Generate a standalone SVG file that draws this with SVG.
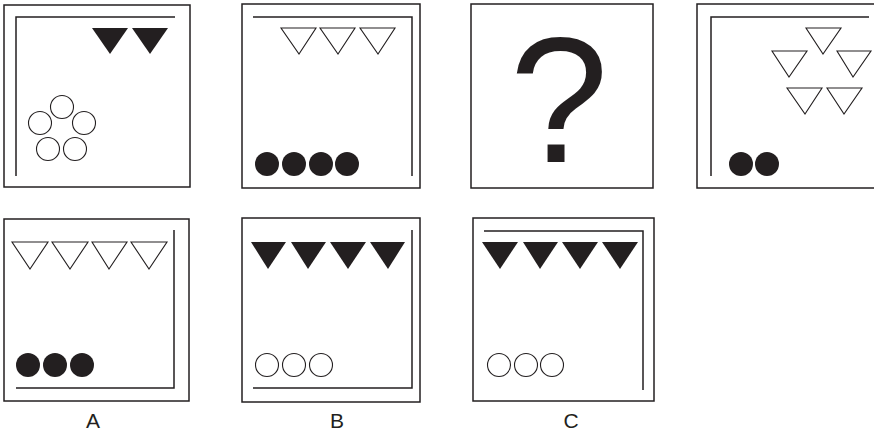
<svg xmlns="http://www.w3.org/2000/svg" width="874" height="435" viewBox="0 0 874 435">
<style>
.frame{fill:none;stroke:#231f20;stroke-width:1.5}
.inner{fill:none;stroke:#231f20;stroke-width:1.5}
.tf{fill:#231f20;stroke:none}
.to{fill:#fff;stroke:#231f20;stroke-width:1.1}
.cf{fill:#231f20;stroke:none}
.co{fill:#fff;stroke:#231f20;stroke-width:1.1}
.lbl{font-family:"Liberation Sans",Arial,sans-serif;font-size:21px;fill:#231f20;text-anchor:middle}
.q{font-family:"Liberation Sans",Arial,sans-serif;font-size:178px;fill:#231f20;text-anchor:middle}
</style>
<rect width="874" height="435" fill="#fff"/>
<g id="p1">
<rect class="frame" x="4" y="5" width="186" height="182"/>
<polyline class="inner" points="175,17 16,17 16,176"/>
<polygon class="tf" points="92,28 128,28 110,54"/>
<polygon class="tf" points="132,28 168,28 150,54"/>
<circle class="co" cx="62" cy="107" r="11.5"/>
<circle class="co" cx="40" cy="123" r="11.5"/>
<circle class="co" cx="84" cy="123" r="11.5"/>
<circle class="co" cx="48" cy="149" r="11.5"/>
<circle class="co" cx="75" cy="149" r="11.5"/>
</g>
<g id="p2">
<rect class="frame" x="242" y="4" width="178" height="184"/>
<polyline class="inner" points="253,17 412,17 412,176"/>
<polygon class="to" points="281,28 316,28 299,54"/>
<polygon class="to" points="320,28 355,28 338,54"/>
<polygon class="to" points="360,28 395,28 378,54"/>
<circle class="cf" cx="267" cy="164" r="12"/>
<circle class="cf" cx="294" cy="164" r="12"/>
<circle class="cf" cx="321" cy="164" r="12"/>
<circle class="cf" cx="347" cy="164" r="12"/>
</g>
<g id="p3">
<rect class="frame" x="471" y="4" width="182" height="184"/>
<text class="q" x="559" y="162">?</text>
</g>
<g id="p4">
<rect class="frame" x="697" y="4" width="190" height="184"/>
<polyline class="inner" points="869,17 711,17 711,176"/>
<polygon class="to" points="806,28 841,28 823,54"/>
<polygon class="to" points="772,51 807,51 789,77"/>
<polygon class="to" points="837,51 871,51 853,77"/>
<polygon class="to" points="787,88 822,88 805,114"/>
<polygon class="to" points="827,88 862,88 844,114"/>
<circle class="cf" cx="741" cy="164" r="12"/>
<circle class="cf" cx="767" cy="164" r="12"/>
</g>
<g id="pA">
<rect class="frame" x="4" y="219" width="185" height="182"/>
<polyline class="inner" points="16,388 174,388 174,230"/>
<polygon class="to" points="12,242 48,242 30,269"/>
<polygon class="to" points="52,242 88,242 70,269"/>
<polygon class="to" points="92,242 127,242 109,269"/>
<polygon class="to" points="131,242 167,242 149,269"/>
<circle class="cf" cx="28" cy="365" r="12"/>
<circle class="cf" cx="55" cy="365" r="12"/>
<circle class="cf" cx="82" cy="365" r="12"/>
<text class="lbl" x="93" y="428">A</text>
</g>
<g id="pB">
<rect class="frame" x="242" y="218" width="178" height="184"/>
<polyline class="inner" points="253,388 412,388 412,230"/>
<polygon class="tf" points="251,242 286,242 268,269"/>
<polygon class="tf" points="291,242 326,242 308,269"/>
<polygon class="tf" points="330,242 366,242 348,269"/>
<polygon class="tf" points="370,242 405,242 388,269"/>
<circle class="co" cx="267" cy="365" r="11.5"/>
<circle class="co" cx="294" cy="365" r="11.5"/>
<circle class="co" cx="321" cy="365" r="11.5"/>
<text class="lbl" x="337" y="428">B</text>
</g>
<g id="pC">
<rect class="frame" x="473" y="218" width="181" height="183"/>
<polyline class="inner" points="484,231 643,231 643,390"/>
<polygon class="tf" points="482,242 518,242 500,269"/>
<polygon class="tf" points="523,242 558,242 540,269"/>
<polygon class="tf" points="562,242 598,242 580,269"/>
<polygon class="tf" points="602,242 638,242 620,269"/>
<circle class="co" cx="499" cy="365" r="11.5"/>
<circle class="co" cx="526" cy="365" r="11.5"/>
<circle class="co" cx="552" cy="365" r="11.5"/>
<text class="lbl" x="571" y="428">C</text>
</g>
<g id="connectors"></g>
</svg>
